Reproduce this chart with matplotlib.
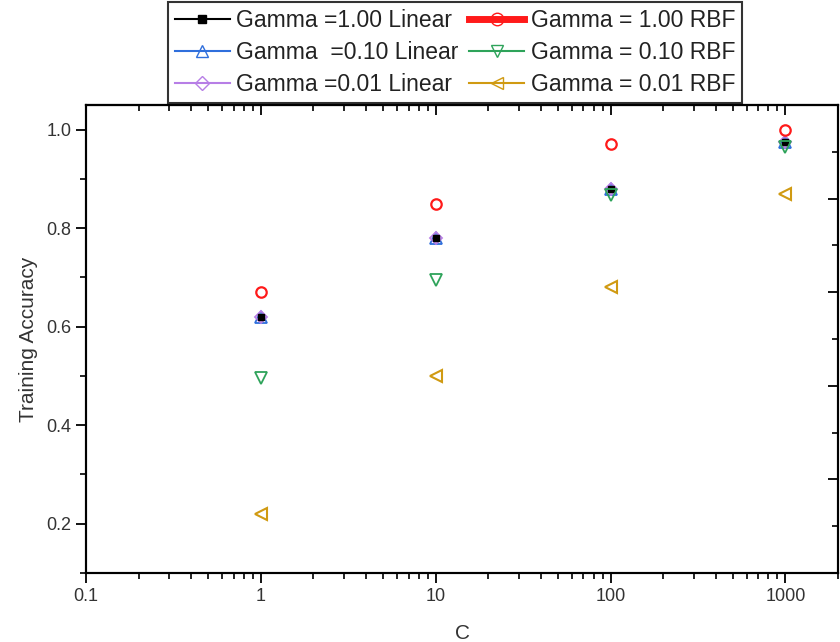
import matplotlib
matplotlib.use("Agg")
import matplotlib.pyplot as plt
from matplotlib.lines import Line2D
from matplotlib.ticker import LogLocator, FixedLocator, MultipleLocator, NullFormatter

plt.rcParams['font.family'] = ['Liberation Sans', 'DejaVu Sans']

C_values = [1, 10, 100, 1000]
lin_g100 = [0.62, 0.78, 0.88, 0.975]
lin_g010 = [0.62, 0.78, 0.88, 0.975]
lin_g001 = [0.62, 0.78, 0.88, 0.975]
rbf_g100 = [0.67, 0.85, 0.97, 1.00]
rbf_g010 = [0.495, 0.695, 0.867, 0.965]
rbf_g001 = [0.22, 0.50, 0.68, 0.87]

labels = ["Gamma =1.00 Linear", "Gamma  =0.10 Linear", "Gamma =0.01 Linear",
          "Gamma = 1.00 RBF", "Gamma = 0.10 RBF", "Gamma = 0.01 RBF"]
x_ticks = [0.1, 1, 10, 100, 1000]
x_ticklabels = ["0.1", "1", "10", "100", "1000"]
y_ticks = [0.2, 0.4, 0.6, 0.8, 1.0]

series = [
    (lin_g010, '#2f6fdc', '^', 'none', 8, 1.3),
    (lin_g001, '#b77ee6', 'D', 'none', 6, 1.3),
    (lin_g100, 'black', 's', 'black', 4.5, 1.0),
    (rbf_g010, '#2ea35a', 'v', 'none', 8, 1.3),
    (rbf_g001, '#d09a12', '<', 'none', 8, 1.5),
    (rbf_g100, '#ff1a1a', 'o', 'none', 7.5, 1.6),
]

fig = plt.figure(figsize=(8.4, 6.42), dpi=100)
ax = fig.add_axes([86/840, 1-573/642, (838-86)/840, (573-105)/642])

for vals, col, mk, fc, ms, mew in series:
    ax.plot(C_values, vals, linestyle='none', marker=mk, color=col,
            markerfacecolor=fc, markeredgecolor=col, markersize=ms, markeredgewidth=mew)

ax.set_xscale('log')
ax.set_xlim(0.1, 2000)
ax.set_ylim(0.1, 1.05)
ax.xaxis.set_major_locator(FixedLocator(x_ticks))
ax.set_xticklabels(x_ticklabels)
ax.xaxis.set_minor_locator(LogLocator(base=10, subs=range(2, 10), numticks=20))
ax.xaxis.set_minor_formatter(NullFormatter())
ax.yaxis.set_major_locator(FixedLocator(y_ticks))
ax.set_yticklabels([f"{v:.1f}" for v in y_ticks])
ax.yaxis.set_minor_locator(MultipleLocator(0.1))

ax.tick_params(axis='both', which='major', direction='out', length=7, width=1.3,
               labelsize=13, colors='black', labelcolor='#333333')
ax.tick_params(axis='both', which='minor', direction='out', length=4, width=1.2)
ax.tick_params(right=False, which='both')

# top axis: same log scale, ticks pointing inward
top = ax.secondary_xaxis('top')
top.xaxis.set_major_locator(FixedLocator(x_ticks))
top.xaxis.set_minor_locator(LogLocator(base=10, subs=range(2, 10), numticks=20))
top.xaxis.set_major_formatter(NullFormatter())
top.xaxis.set_minor_formatter(NullFormatter())
top.tick_params(which='major', direction='in', length=7, width=1.3)
top.tick_params(which='minor', direction='in', length=4, width=1.2)
top.spines['top'].set_linewidth(1.5)

# right axis: independent 0-1 layer scale, ticks inward, no labels
rax = ax.twinx()
rax.set_ylim(0, 1)
rax.yaxis.set_major_locator(MultipleLocator(0.2))
rax.yaxis.set_minor_locator(MultipleLocator(0.1))
rax.yaxis.set_major_formatter(NullFormatter())
rax.tick_params(which='major', direction='in', length=7, width=1.3)
rax.tick_params(which='minor', direction='in', length=4, width=1.2)

for a in (ax, rax):
    for s in a.spines.values():
        s.set_linewidth(1.5)

ax.set_xlabel("C", fontsize=15, color='#333333', labelpad=14)
ax.set_ylabel("Training Accuracy", fontsize=15, color='#333333', labelpad=6)

handles = [
    Line2D([], [], color='black', marker='s', markersize=6, markerfacecolor='black', lw=1.5),
    Line2D([], [], color='#2f6fdc', marker='^', markersize=9, markerfacecolor='none', lw=1.5),
    Line2D([], [], color='#b77ee6', marker='D', markersize=7, markerfacecolor='none', lw=1.5),
    Line2D([], [], color='#ff1a1a', marker='o', markersize=9, markerfacecolor='none', lw=5),
    Line2D([], [], color='#2ea35a', marker='v', markersize=9, markerfacecolor='none', lw=1.5),
    Line2D([], [], color='#d09a12', marker='<', markersize=9, markerfacecolor='none', lw=1.5),
]
leg = fig.legend(handles, labels, ncol=2, loc='upper center',
                 bbox_to_anchor=(455/840, 1-2/642), fontsize=16.5,
                 frameon=True, fancybox=False, edgecolor='black',
                 handlelength=2.4, handletextpad=0.3, columnspacing=0.45,
                 labelspacing=0.4, borderpad=0.3, borderaxespad=0.0)
leg.get_frame().set_linewidth(1.5)
leg.set_zorder(10)
for t in leg.get_texts():
    t.set_color('#222222')

fig.savefig("out.png", dpi=100)
